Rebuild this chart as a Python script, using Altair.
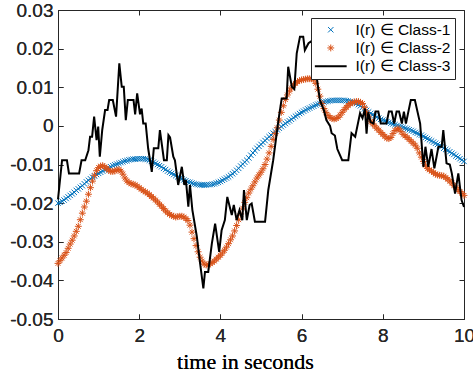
import altair as alt
import pandas as pd

# ---------------- data ----------------
time_grid = [
    0.00, 0.05, 0.10, 0.15, 0.20, 0.25, 0.30, 0.35, 0.40, 0.45,
    0.50, 0.55, 0.60, 0.65, 0.70, 0.75, 0.80, 0.85, 0.90, 0.95,
    1.00, 1.05, 1.10, 1.15, 1.20, 1.25, 1.30, 1.35, 1.40, 1.45,
    1.50, 1.55, 1.60, 1.65, 1.70, 1.75, 1.80, 1.85, 1.90, 1.95,
    2.00, 2.05, 2.10, 2.15, 2.20, 2.25, 2.30, 2.35, 2.40, 2.45,
    2.50, 2.55, 2.60, 2.65, 2.70, 2.75, 2.80, 2.85, 2.90, 2.95,
    3.00, 3.05, 3.10, 3.15, 3.20, 3.25, 3.30, 3.35, 3.40, 3.45,
    3.50, 3.55, 3.60, 3.65, 3.70, 3.75, 3.80, 3.85, 3.90, 3.95,
    4.00, 4.05, 4.10, 4.15, 4.20, 4.25, 4.30, 4.35, 4.40, 4.45,
    4.50, 4.55, 4.60, 4.65, 4.70, 4.75, 4.80, 4.85, 4.90, 4.95,
    5.00, 5.05, 5.10, 5.15, 5.20, 5.25, 5.30, 5.35, 5.40, 5.45,
    5.50, 5.55, 5.60, 5.65, 5.70, 5.75, 5.80, 5.85, 5.90, 5.95,
    6.00, 6.05, 6.10, 6.15, 6.20, 6.25, 6.30, 6.35, 6.40, 6.45,
    6.50, 6.55, 6.60, 6.65, 6.70, 6.75, 6.80, 6.85, 6.90, 6.95,
    7.00, 7.05, 7.10, 7.15, 7.20, 7.25, 7.30, 7.35, 7.40, 7.45,
    7.50, 7.55, 7.60, 7.65, 7.70, 7.75, 7.80, 7.85, 7.90, 7.95,
    8.00, 8.05, 8.10, 8.15, 8.20, 8.25, 8.30, 8.35, 8.40, 8.45,
    8.50, 8.55, 8.60, 8.65, 8.70, 8.75, 8.80, 8.85, 8.90, 8.95,
    9.00, 9.05, 9.10, 9.15, 9.20, 9.25, 9.30, 9.35, 9.40, 9.45,
    9.50, 9.55, 9.60, 9.65, 9.70, 9.75, 9.80, 9.85, 9.90, 9.95,
    10.00,
]

class1_values = [
    -0.0200, -0.0198, -0.0195, -0.0192, -0.0188, -0.0184, -0.0180, -0.0176, -0.0172, -0.0167,
    -0.0163, -0.0159, -0.0155, -0.0150, -0.0145, -0.0141, -0.0137, -0.0133, -0.0130, -0.0126,
    -0.0123, -0.0120, -0.0117, -0.0114, -0.0112, -0.0109, -0.0106, -0.0103, -0.0101, -0.0099,
    -0.0097, -0.0095, -0.0093, -0.0091, -0.0090, -0.0088, -0.0087, -0.0086, -0.0086, -0.0085,
    -0.0085, -0.0085, -0.0085, -0.0086, -0.0087, -0.0089, -0.0092, -0.0094, -0.0097, -0.0100,
    -0.0103, -0.0106, -0.0110, -0.0113, -0.0117, -0.0120, -0.0123, -0.0126, -0.0129, -0.0132,
    -0.0135, -0.0137, -0.0140, -0.0142, -0.0145, -0.0146, -0.0148, -0.0150, -0.0151, -0.0152,
    -0.0153, -0.0153, -0.0153, -0.0153, -0.0152, -0.0152, -0.0151, -0.0150, -0.0148, -0.0146,
    -0.0144, -0.0141, -0.0138, -0.0135, -0.0132, -0.0128, -0.0124, -0.0120, -0.0115, -0.0110,
    -0.0104, -0.0099, -0.0094, -0.0089, -0.0083, -0.0076, -0.0070, -0.0064, -0.0058, -0.0053,
    -0.0048, -0.0043, -0.0038, -0.0033, -0.0028, -0.0024, -0.0019, -0.0015, -0.0010, -0.0006,
    -0.0002, 0.0002, 0.0006, 0.0010, 0.0013, 0.0017, 0.0021, 0.0025, 0.0028, 0.0032,
    0.0035, 0.0038, 0.0041, 0.0044, 0.0046, 0.0049, 0.0051, 0.0054, 0.0056, 0.0058,
    0.0060, 0.0062, 0.0063, 0.0064, 0.0065, 0.0066, 0.0066, 0.0066, 0.0066, 0.0066,
    0.0066, 0.0066, 0.0065, 0.0064, 0.0063, 0.0062, 0.0060, 0.0058, 0.0055, 0.0052,
    0.0048, 0.0044, 0.0040, 0.0036, 0.0032, 0.0029, 0.0026, 0.0023, 0.0020, 0.0017,
    0.0015, 0.0013, 0.0011, 0.0009, 0.0007, 0.0005, 0.0003, 0.0001, -0.0001, -0.0002,
    -0.0004, -0.0006, -0.0008, -0.0010, -0.0012, -0.0014, -0.0017, -0.0019, -0.0022, -0.0024,
    -0.0027, -0.0030, -0.0033, -0.0036, -0.0039, -0.0042, -0.0045, -0.0048, -0.0051, -0.0054,
    -0.0058, -0.0061, -0.0064, -0.0067, -0.0071, -0.0074, -0.0078, -0.0081, -0.0085, -0.0088,
    -0.0092,
]

class2_values = [
    -0.0356, -0.0349, -0.0342, -0.0335, -0.0328, -0.0317, -0.0306, -0.0296, -0.0285, -0.0273,
    -0.0260, -0.0243, -0.0226, -0.0210, -0.0195, -0.0177, -0.0160, -0.0143, -0.0128, -0.0116,
    -0.0108, -0.0104, -0.0103, -0.0106, -0.0110, -0.0115, -0.0118, -0.0118, -0.0117, -0.0114,
    -0.0113, -0.0117, -0.0125, -0.0135, -0.0143, -0.0147, -0.0150, -0.0151, -0.0153, -0.0156,
    -0.0160, -0.0164, -0.0168, -0.0171, -0.0174, -0.0178, -0.0183, -0.0187, -0.0192, -0.0197,
    -0.0203, -0.0208, -0.0214, -0.0220, -0.0225, -0.0229, -0.0232, -0.0234, -0.0236, -0.0235,
    -0.0234, -0.0234, -0.0236, -0.0240, -0.0245, -0.0257, -0.0275, -0.0292, -0.0310, -0.0326,
    -0.0340, -0.0350, -0.0358, -0.0360, -0.0360, -0.0357, -0.0354, -0.0350, -0.0345, -0.0340,
    -0.0335, -0.0329, -0.0322, -0.0314, -0.0305, -0.0295, -0.0285, -0.0272, -0.0258, -0.0243,
    -0.0228, -0.0213, -0.0198, -0.0186, -0.0174, -0.0164, -0.0155, -0.0145, -0.0135, -0.0127,
    -0.0120, -0.0111, -0.0100, -0.0086, -0.0070, -0.0053, -0.0035, -0.0020, -0.0005, 0.0015,
    0.0035, 0.0052, 0.0068, 0.0080, 0.0090, 0.0098, 0.0105, 0.0110, 0.0115, 0.0117,
    0.0119, 0.0120, 0.0121, 0.0122, 0.0122, 0.0122, 0.0120, 0.0110, 0.0095, 0.0077,
    0.0058, 0.0045, 0.0035, 0.0027, 0.0022, 0.0019, 0.0018, 0.0019, 0.0022, 0.0028,
    0.0035, 0.0042, 0.0048, 0.0053, 0.0058, 0.0060, 0.0062, 0.0063, 0.0063, 0.0061,
    0.0058, 0.0048, 0.0035, 0.0023, 0.0012, 0.0005, 0.0000, -0.0006, -0.0011, -0.0017,
    -0.0022, -0.0027, -0.0032, -0.0033, -0.0030, -0.0020, -0.0012, -0.0008, -0.0008, -0.0015,
    -0.0022, -0.0026, -0.0030, -0.0035, -0.0040, -0.0045, -0.0050, -0.0058, -0.0070, -0.0081,
    -0.0092, -0.0102, -0.0110, -0.0114, -0.0117, -0.0121, -0.0125, -0.0127, -0.0128, -0.0129,
    -0.0130, -0.0134, -0.0138, -0.0143, -0.0148, -0.0154, -0.0160, -0.0165, -0.0170, -0.0175,
    -0.0180,
]

# Class-3: vertices of the jagged black line (time, value)
class3_points = [
    (0.00, -0.0190), (0.10, -0.0089), (0.22, -0.0089), (0.27, -0.0123), (0.52, -0.0123),
    (0.58, -0.0089), (0.67, -0.0089), (0.75, -0.0063), (0.79, -0.0028), (0.84, -0.0028),
    (0.89, 0.0024), (0.95, -0.0037), (0.99, -0.0002), (1.03, -0.0080), (1.09, -0.0010),
    (1.16, 0.0041), (1.22, 0.0041), (1.26, 0.0067), (1.35, 0.0067), (1.43, 0.0024),
    (1.51, 0.0162), (1.57, 0.0101), (1.62, 0.0101), (1.67, 0.0015), (1.72, 0.0067),
    (1.86, 0.0067), (1.90, 0.0030), (1.95, 0.0084), (2.02, 0.0030), (2.06, 0.0045),
    (2.10, 0.0006), (2.16, 0.0006), (2.22, -0.0058), (2.31, -0.0119), (2.36, -0.0058),
    (2.47, -0.0058), (2.51, -0.0011), (2.61, -0.0089), (2.68, -0.0089), (2.72, -0.0024),
    (2.76, -0.0030), (2.84, -0.0080), (2.88, -0.0089), (2.96, -0.0153), (3.05, -0.0106),
    (3.11, -0.0153), (3.15, -0.0140), (3.21, -0.0209), (3.25, -0.0153), (3.31, -0.0218),
    (3.42, -0.0287), (3.50, -0.0356), (3.58, -0.0421), (3.62, -0.0378), (3.70, -0.0378),
    (3.79, -0.0304), (3.87, -0.0253), (3.97, -0.0326), (4.03, -0.0270), (4.11, -0.0244),
    (4.17, -0.0184), (4.28, -0.0231), (4.33, -0.0205), (4.40, -0.0244), (4.47, -0.0218),
    (4.54, -0.0244), (4.58, -0.0166), (4.65, -0.0244), (4.72, -0.0205), (4.77, -0.0201),
    (4.85, -0.0248), (5.10, -0.0248), (5.18, -0.0166), (5.30, -0.0089), (5.43, 0.0015),
    (5.51, 0.0071), (5.63, 0.0071), (5.67, 0.0153), (5.76, 0.0101), (5.82, 0.0095),
    (5.88, 0.0188), (5.96, 0.0231), (6.04, 0.0231), (6.08, 0.0196), (6.17, 0.0214),
    (6.25, 0.0220), (6.32, 0.0180), (6.37, 0.0127), (6.45, 0.0067), (6.55, 0.0040),
    (6.61, 0.0015), (6.70, 0.0000), (6.74, -0.0019), (6.82, -0.0025), (6.88, -0.0060),
    (7.00, -0.0089), (7.15, -0.0089), (7.23, -0.0019), (7.32, -0.0028), (7.44, 0.0033),
    (7.50, 0.0020), (7.56, 0.0045), (7.60, -0.0020), (7.64, 0.0035), (7.70, 0.0010),
    (7.77, 0.0006), (7.82, 0.0037), (7.89, 0.0037), (7.95, 0.0006), (8.09, 0.0006),
    (8.15, 0.0037), (8.22, 0.0037), (8.28, 0.0006), (8.34, 0.0037), (8.40, 0.0037),
    (8.47, 0.0006), (8.52, 0.0037), (8.57, 0.0006), (8.63, 0.0037), (8.69, 0.0067),
    (8.79, 0.0067), (8.92, 0.0006), (9.00, -0.0106), (9.05, -0.0054), (9.12, -0.0106),
    (9.20, -0.0060), (9.27, -0.0110), (9.37, -0.0054), (9.45, -0.0054), (9.49, -0.0011),
    (9.57, -0.0097), (9.65, -0.0100), (9.70, -0.0123), (9.78, -0.0175), (9.86, -0.0123),
    (9.94, -0.0192), (10.00, -0.0210),
]

series_names = ["I(r) \u2208 Class-1", "I(r) \u2208 Class-2", "I(r) \u2208 Class-3"]
series_colors = ["#0072BD", "#D95319", "#000000"]
x_ticks = [0, 2, 4, 6, 8, 10]
y_ticks = [-0.05, -0.04, -0.03, -0.02, -0.01, 0, 0.01, 0.02, 0.03]
x_domain = [0, 10]
y_domain = [-0.05, 0.03]

assert len(class1_values) == len(time_grid) and len(class2_values) == len(time_grid)

# ---------------- tables ----------------
n = len(time_grid)
markers_df = pd.DataFrame({
    "t": time_grid + time_grid,
    "v": class1_values + class2_values,
    "series": [series_names[0]] * n + [series_names[1]] * n,
})
line_df = pd.DataFrame({
    "t": [p[0] for p in class3_points],
    "v": [p[1] for p in class3_points],
    "series": series_names[2],
})

X_PATH = "M-0.9,-0.9L0.9,0.9M-0.9,0.9L0.9,-0.9"
STAR_PATH = "M-1.15,0L1.15,0M0,-1.15L0,1.15M-0.8,-0.8L0.8,0.8M-0.8,0.8L0.8,-0.8"
LINE_PATH = "M-5.3,0L5.3,0"

AX = "#262626"
x_scale = alt.Scale(domain=x_domain, nice=False, zero=False)
y_scale = alt.Scale(domain=y_domain, nice=False, zero=False)
color_scale = alt.Scale(domain=series_names, range=series_colors)
shape_scale = alt.Scale(domain=series_names, range=[X_PATH, STAR_PATH, LINE_PATH])
sw_scale = alt.Scale(type="ordinal", domain=series_names, range=[1, 1, 2])

inward = alt.ExprRef(expr="-5")
y_label_expr = "replace(format(datum.value, '~g'), '\u2212', '-')"

x_axis = alt.Axis(values=x_ticks, orient="bottom", grid=False, domainColor=AX, tickColor=AX,
                  tickSize=inward, labelPadding=12, labelFont="Liberation Sans", labelFontSize=19,
                  labelColor=AX, labelFlush=False, labelOverlap=False,
                  title="time in seconds", titleFont="Liberation Serif", titleFontSize=22,
                  titleFontWeight="normal", titleColor="#000000", titleX=187, titleY=49,
                  titleBaseline="alphabetic", titleAlign="center")
y_axis = alt.Axis(values=y_ticks, orient="left", grid=False, domainColor=AX, tickColor=AX,
                  tickSize=inward, labelPadding=10, labelFont="Liberation Sans", labelFontSize=19,
                  labelColor=AX, labelFlush=False, labelOverlap=False, labelExpr=y_label_expr,
                  title=None)
x_axis_top = alt.Axis(values=x_ticks, orient="top", grid=False, domainColor=AX, tickColor=AX,
                      tickSize=inward, labels=False, title=None)
y_axis_right = alt.Axis(values=y_ticks, orient="right", grid=False, domainColor=AX, tickColor=AX,
                        tickSize=inward, labels=False, title=None)

legend = alt.Legend(title=None, orient="none", legendX=253, legendY=8,
                    fillColor="white", strokeColor=AX, padding=4, cornerRadius=0,
                    symbolSize=36, symbolOffset=8, symbolFillColor="transparent",
                    labelFont="Liberation Sans", labelFontSize=15.5, labelColor="#000000",
                    labelOffset=17, rowPadding=1.2)

markers = alt.Chart(markers_df).mark_point(filled=False, opacity=1, size=36).encode(
    x=alt.X("t:Q", scale=x_scale, axis=x_axis),
    y=alt.Y("v:Q", scale=y_scale, axis=y_axis),
    color=alt.Color("series:N", scale=color_scale, legend=legend),
    shape=alt.Shape("series:N", scale=shape_scale, legend=legend),
    strokeWidth=alt.StrokeWidth("series:N", scale=sw_scale, legend=legend),
)

line = alt.Chart(line_df).mark_line().encode(
    x=alt.X("t:Q", scale=x_scale, axis=x_axis),
    y=alt.Y("v:Q", scale=y_scale, axis=y_axis),
    color=alt.Color("series:N", scale=color_scale, legend=None),
    strokeWidth=alt.StrokeWidth("series:N", scale=sw_scale, legend=None),
)

frame = alt.Chart(line_df).mark_point(opacity=0).encode(
    x=alt.X("t:Q", scale=x_scale, axis=x_axis_top),
    y=alt.Y("v:Q", scale=y_scale, axis=y_axis_right),
)

chart = alt.layer(markers, line, frame).resolve_axis(
    x="independent", y="independent"
).properties(
    width=406, height=309,
    padding={"left": 58, "top": 10, "right": 9, "bottom": 56},
    autosize=alt.AutoSizeParams(type="none"),
).configure_view(stroke=None).configure(background="white")

chart.save("out.html", embed_options={"renderer": "svg", "actions": False})
